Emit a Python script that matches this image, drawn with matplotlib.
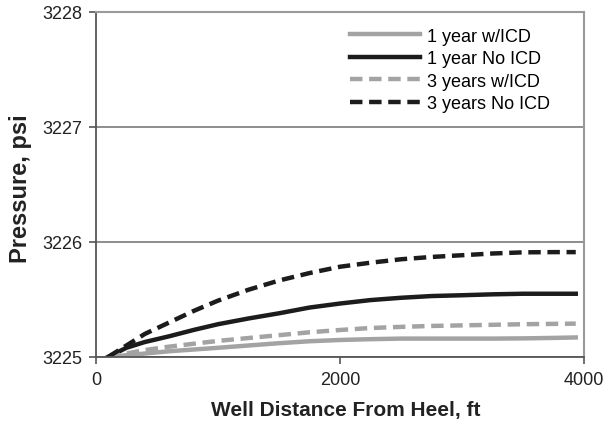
import matplotlib
matplotlib.use("Agg")
import matplotlib.pyplot as plt

plt.rcParams['font.family'] = ['Liberation Sans', 'DejaVu Sans']

# distance along the well, ft
dist_ft = [100, 250, 400, 600, 800, 1000, 1250, 1500, 1750, 2000, 2250,
           2500, 2750, 3000, 3250, 3500, 3750, 3930]

# pressure, psi
yr1_icd = [3225.00, 3225.015, 3225.03, 3225.05, 3225.065, 3225.08, 3225.10,
           3225.12, 3225.137, 3225.148, 3225.155, 3225.16, 3225.16, 3225.16,
           3225.16, 3225.162, 3225.166, 3225.17]
yr1_no = [3225.00, 3225.08, 3225.13, 3225.18, 3225.235, 3225.285, 3225.335,
          3225.38, 3225.43, 3225.465, 3225.495, 3225.515, 3225.53, 3225.537,
          3225.545, 3225.55, 3225.55, 3225.55]
yr3_icd = [3225.00, 3225.03, 3225.06, 3225.09, 3225.115, 3225.14, 3225.165,
           3225.19, 3225.215, 3225.235, 3225.252, 3225.262, 3225.27,
           3225.275, 3225.28, 3225.285, 3225.288, 3225.29]
yr3_no = [3225.00, 3225.10, 3225.20, 3225.30, 3225.40, 3225.49, 3225.585,
          3225.665, 3225.73, 3225.785, 3225.82, 3225.85, 3225.87, 3225.885,
          3225.90, 3225.91, 3225.912, 3225.912]

labels = ["1 year w/ICD", "1 year No ICD", "3 years w/ICD", "3 years No ICD"]
x_ticks = [0, 2000, 4000]
y_ticks = [3225, 3226, 3227, 3228]

gray = '#a3a3a3'
black = '#1c1c1c'
dash = (0, (2.8, 1.5))

fig = plt.figure(figsize=(6.03, 4.27), dpi=100)
ax = fig.add_axes([0.159, 0.1616, 0.810, 0.808])

kw = dict(lw=3.2, solid_joinstyle='round', dash_capstyle='butt')
ax.plot(dist_ft, yr1_icd, color=gray, label=labels[0], **kw)
ax.plot(dist_ft, yr1_no, color=black, label=labels[1], **kw)
ax.plot(dist_ft, yr3_icd, color=gray, ls=dash, label=labels[2], **kw)
ax.plot(dist_ft, yr3_no, color=black, ls=dash, label=labels[3], **kw)

ax.set_xlim(0, 4000)
ax.set_ylim(3225, 3228)
ax.set_xticks(x_ticks)
ax.set_yticks(y_ticks)
ax.yaxis.grid(True, color='#858585', lw=1.3)
ax.set_axisbelow(True)

for side in ['left', 'bottom']:
    ax.spines[side].set_color('#555555')
    ax.spines[side].set_linewidth(1.3)
for side in ['top', 'right']:
    ax.spines[side].set_color('#9a9a9a')
    ax.spines[side].set_linewidth(1.5)

ax.tick_params(axis='both', direction='out', length=5, width=1.2,
               color='#555555', labelsize=13, labelcolor='#222222', pad=5)

ax.set_xlabel('Well Distance From Heel, ft', fontsize=15, fontweight='bold',
              color='#222222')
ax.set_ylabel('Pressure, psi', fontsize=17, fontweight='bold', color='#222222')
ax.xaxis.set_label_coords(0.512, -0.125)
ax.yaxis.set_label_coords(-0.13, 0.49)

ax.legend(loc='upper left', bbox_to_anchor=(0.52, 0.955), frameon=False,
          fontsize=13, handlelength=3.9, handletextpad=0.35,
          labelspacing=0.31, borderpad=0, borderaxespad=0)

fig.savefig('out.png', dpi=100)
